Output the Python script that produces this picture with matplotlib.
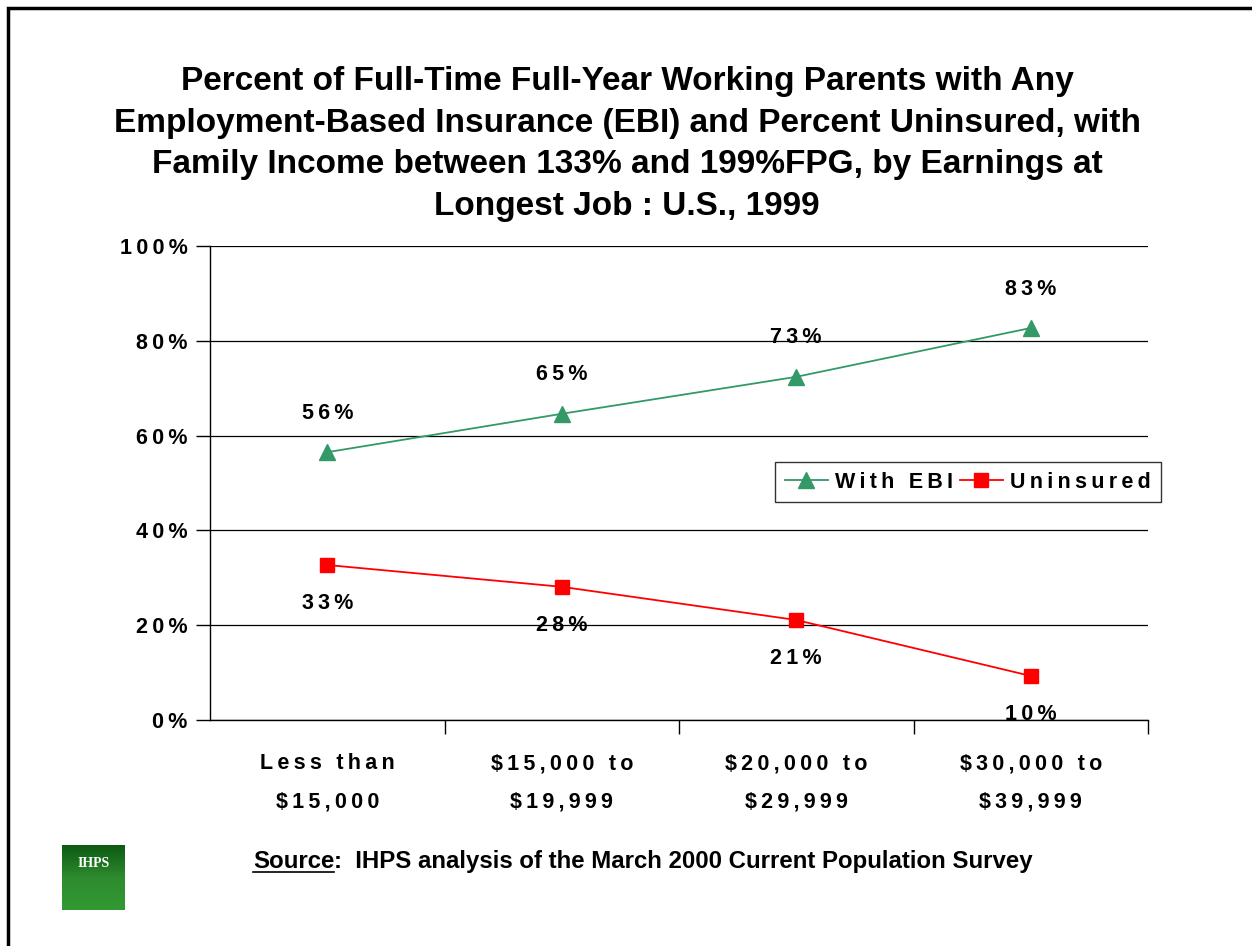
import numpy as np
import matplotlib.pyplot as plt
from matplotlib.patches import Rectangle

plt.rcParams['font.family'] = ['Liberation Sans', 'DejaVu Sans']

categories = ['Less than\n$15,000', '$15,000 to\n$19,999', '$20,000 to\n$29,999', '$30,000 to\n$39,999']
with_ebi = [56.5, 64.6, 72.4, 82.7]
uninsured = [32.7, 28.1, 21.1, 9.3]
ebi_labels = ['56%', '65%', '73%', '83%']
unins_labels = ['33%', '28%', '21%', '10%']
yticks = [0, 20, 40, 60, 80, 100]


def spaced(s):
    # the original uses expanded character spacing
    return '\n'.join('\u2009'.join(line) for line in s.split('\n'))


fig = plt.figure(figsize=(12.52, 9.46), dpi=100)

# outer frame (runs off the right/bottom edge like the original)
fig.patches.append(Rectangle((8 / 1252, -0.05), 1.1, 1 - 8 / 946 + 0.05,
                             transform=fig.transFigure, fill=False,
                             edgecolor='black', linewidth=2.5))

ax = fig.add_axes([210 / 1252, 1 - 720 / 946, (1148 - 210) / 1252, (720 - 246) / 946])

x = np.arange(len(categories))
ax.plot(x, with_ebi, color='#339966', marker='^', markersize=11, linewidth=1.3,
        label=spaced('With EBI'))
ax.plot(x, uninsured, color='#FF0000', marker='s', markersize=10, linewidth=1.3,
        label=spaced('Uninsured'))

fs = 15.5
for xi, v, t in zip(x, with_ebi, ebi_labels):
    ax.annotate(spaced(t), (xi, v), xytext=(0, 28), textcoords='offset points',
                ha='center', va='center', fontsize=fs, fontweight='bold')
for xi, v, t in zip(x, uninsured, unins_labels):
    ax.annotate(spaced(t), (xi, v), xytext=(0, -28), textcoords='offset points',
                ha='center', va='center', fontsize=fs, fontweight='bold')

ax.set_xlim(-0.5, len(categories) - 0.5)
ax.set_ylim(0, 100)
ax.set_yticks(yticks)
ax.set_yticklabels([spaced(f'{v}%') for v in yticks], fontsize=fs, fontweight='bold')
ax.yaxis.grid(True, color='black', linewidth=0.9)
ax.set_axisbelow(True)

ax.set_xticks(x)
ax.set_xticklabels([spaced(c) for c in categories], fontsize=fs, fontweight='bold',
                   linespacing=2.05)
ax.tick_params(axis='x', length=0, pad=24)
ax.set_xticks(np.arange(0.5, len(categories)), minor=True)
ax.tick_params(axis='x', which='minor', length=10, width=1, direction='out')
ax.tick_params(axis='y', length=10, width=1, direction='out', pad=6)

for s in ['top', 'right']:
    ax.spines[s].set_visible(False)
ax.spines['left'].set_linewidth(1)
ax.spines['bottom'].set_linewidth(1)

leg = ax.legend(loc='upper left', bbox_to_anchor=(775 / 1252, 1 - 462 / 946),
                bbox_transform=fig.transFigure, ncol=2,
                prop={'weight': 'bold', 'size': fs}, frameon=True, fancybox=False,
                edgecolor='black', handlelength=2.0, columnspacing=0.3,
                handletextpad=0.35, borderpad=0.45, borderaxespad=0)
leg.get_frame().set_linewidth(1)

fig.text(627 / 1252, 1 - 144 / 946,
         'Percent of Full-Time Full-Year Working Parents with Any\n'
         'Employment-Based Insurance (EBI) and Percent Uninsured, with\n'
         'Family Income between 133% and 199%FPG, by Earnings at\n'
         'Longest Job : U.S., 1999',
         ha='center', va='center', fontsize=24, fontweight='bold', linespacing=1.45)

# source line with underlined "Source"
src = fig.text(253 / 1252, 1 - 861 / 946, 'Source', ha='left', va='center',
               fontsize=17.3, fontweight='bold')
fig.canvas.draw()
bb = src.get_window_extent()
fig.add_artist(plt.Line2D([bb.x0 / 1252, bb.x1 / 1252],
                          [(bb.y0 + 1) / 946, (bb.y0 + 1) / 946],
                          transform=fig.transFigure, color='black', linewidth=1.2))
fig.text(bb.x1 / 1252, 1 - 861 / 946,
         ':  IHPS analysis of the March 2000 Current Population Survey',
         ha='left', va='center', fontsize=17.3, fontweight='bold')

# IHPS logo
logo = fig.add_axes([62 / 1252, 1 - 910 / 946, 63 / 1252, 65 / 946])
grad = np.linspace(0, 1, 100).reshape(-1, 1)
logo.imshow(grad, aspect='auto', extent=(0, 1, 0, 1),
            cmap=plt.matplotlib.colors.LinearSegmentedColormap.from_list(
                'g', ['#0c5a12', '#2e8b2e', '#339933']))
logo.text(0.5, 0.72, 'IHPS', ha='center', va='center', color='white',
          fontsize=10, fontweight='bold', family='Liberation Serif')
logo.set_axis_off()

fig.savefig('out.png', dpi=100)
